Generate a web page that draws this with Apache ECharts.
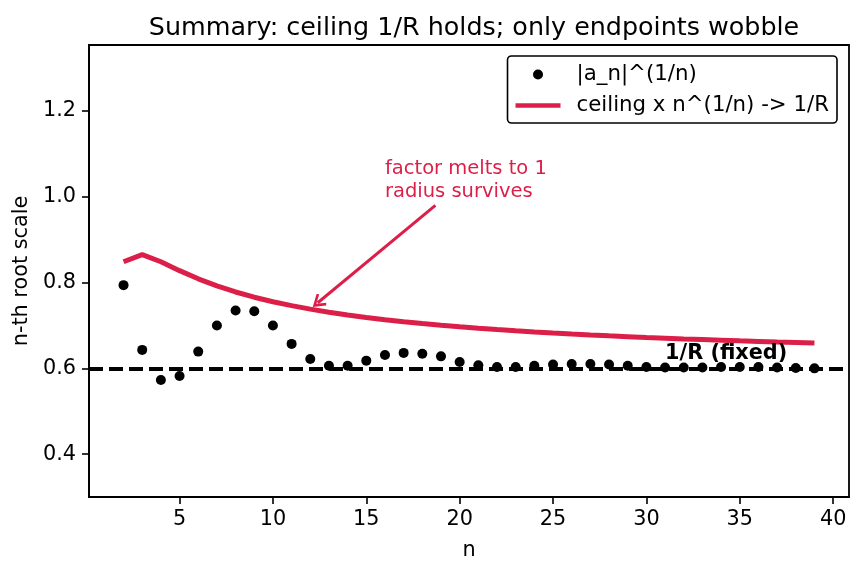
<!DOCTYPE html>
<html>
<head>
<meta charset="utf-8">
<script src="https://cdn.jsdelivr.net/npm/echarts@6/dist/echarts.min.js"></script>
<style>
  html, body { margin: 0; padding: 0; background: #fff; }
  #chart { width: 862px; height: 573px; }
</style>
</head>
<body>
<div id="chart"></div>
<script>
// n-th root summary chart

const nValues = [2, 3, 4, 5, 6, 7, 8, 9, 10, 11, 12, 13, 14, 15, 16, 17, 18, 19, 20,
  21, 22, 23, 24, 25, 26, 27, 28, 29, 30, 31, 32, 33, 34, 35, 36, 37, 38, 39]

const rootValues = [0.794, 0.643, 0.573, 0.582, 0.639, 0.700, 0.735, 0.733, 0.700, 0.657,
  0.622, 0.606, 0.606, 0.618, 0.631, 0.636, 0.634, 0.628, 0.615, 0.607,
  0.603, 0.603, 0.606, 0.609, 0.610, 0.610, 0.609, 0.606, 0.603, 0.602,
  0.602, 0.602, 0.603, 0.603, 0.603, 0.602, 0.601, 0.600]

const ceilingValues = [0.8485, 0.8653, 0.8485, 0.8278, 0.8088, 0.7923, 0.7781, 0.7659, 0.7553, 0.7462,
  0.7381, 0.7309, 0.7245, 0.7187, 0.7135, 0.7088, 0.7045, 0.7006, 0.6970, 0.6936,
  0.6905, 0.6876, 0.6849, 0.6824, 0.6801, 0.6779, 0.6758, 0.6739, 0.6720, 0.6703,
  0.6686, 0.6671, 0.6656, 0.6641, 0.6628, 0.6615, 0.6603, 0.6591]

const xTicks = [5, 10, 15, 20, 25, 30, 35, 40]
const yTicks = [0.4, 0.6, 0.8, 1.0, 1.2]
const radiusLevel = 0.6

const red = '#dc1f48'
const font = 'DejaVu Sans'
const fs = 20.8

const chart = echarts.init(document.getElementById('chart'))

chart.setOption({
  animation: false,
  title: {
    text: 'Summary: ceiling 1/R holds; only endpoints wobble',
    left: 469,
    textAlign: 'center',
    top: 11,
    textStyle: { fontFamily: font, fontSize: 25.4, fontWeight: 'normal', color: '#000' }
  },
  grid: {
    left: 89, right: 13, top: 45, bottom: 76,
    show: true, borderColor: '#000', borderWidth: 1.8, backgroundColor: 'transparent'
  },
  legend: {
    orient: 'vertical',
    right: 25,
    top: 56,
    backgroundColor: '#fff',
    borderColor: '#000',
    borderWidth: 1.6,
    borderRadius: 4,
    padding: [8, 8, 7, 8],
    itemGap: 10,
    itemWidth: 45,
    itemHeight: 10,
    textStyle: { fontFamily: font, fontSize: 21.3, color: '#000', padding: [0, 0, 0, 11] },
    data: [
      { name: '|a_n|^(1/n)', icon: 'circle' },
      { name: 'ceiling x n^(1/n) -> 1/R', icon: 'path://M0,0 L45,0 L45,4.5 L0,4.5 Z' }
    ]
  },
  xAxis: {
    type: 'value',
    min: 0.15,
    max: 40.85,
    name: 'n',
    nameLocation: 'middle',
    nameGap: 43,
    nameTextStyle: { fontFamily: font, fontSize: fs, color: '#000' },
    splitLine: { show: false },
    axisLine: { show: true, onZero: false, lineStyle: { color: '#000', width: 1.8 } },
    axisTick: { show: true, length: 7, lineStyle: { color: '#000', width: 1.6 }, customValues: xTicks },
    axisLabel: { fontFamily: font, fontSize: fs, color: '#000', margin: 12, customValues: xTicks }
  },
  yAxis: {
    type: 'value',
    min: 0.3,
    max: 1.354,
    name: 'n-th root scale',
    nameLocation: 'middle',
    nameGap: 56,
    nameTextStyle: { fontFamily: font, fontSize: fs, color: '#000' },
    splitLine: { show: false },
    axisLine: { show: true, onZero: false, lineStyle: { color: '#000', width: 1.8 } },
    axisTick: { show: true, length: 7, lineStyle: { color: '#000', width: 1.6 }, customValues: yTicks },
    axisLabel: {
      fontFamily: font, fontSize: fs, color: '#000', margin: 13, customValues: yTicks,
      formatter: v => v.toFixed(1)
    }
  },
  series: [
    {
      name: '|a_n|^(1/n)',
      type: 'scatter',
      data: nValues.map((n, i) => [n, rootValues[i]]),
      symbolSize: 10,
      itemStyle: { color: '#000', opacity: 1 },
      z: 2
    },
    {
      name: 'ceiling x n^(1/n) -> 1/R',
      type: 'line',
      data: nValues.map((n, i) => [n, ceilingValues[i]]),
      symbol: 'none',
      lineStyle: { color: red, width: 5 },
      itemStyle: { color: red },
      z: 3,
      markLine: {
        silent: true,
        symbol: ['none', 'path://M5,0 L10,8 L8.7,9.3 L5,3.4 L1.3,9.3 L0,8 Z'],
        symbolSize: [15, 13],
        lineStyle: { color: red, width: 3, type: 'solid' },
        label: { show: false },
        data: [[{ coord: [18.7, 0.98] }, { coord: [12.4, 0.753] }]]
      },
      markPoint: {
        silent: true,
        symbol: 'circle',
        symbolSize: 0,
        data: [
          {
            coord: [16, 0.985],
            label: {
              show: true, formatter: 'factor melts to 1\nradius survives',
              position: 'inside', align: 'left', verticalAlign: 'bottom',
              fontFamily: font, fontSize: 19.5, color: red, lineHeight: 23
            }
          },
          {
            coord: [31, 0.611],
            label: {
              show: true, formatter: '1/R (fixed)',
              position: 'inside', align: 'left', verticalAlign: 'bottom',
              fontFamily: font, fontSize: fs, fontWeight: 'bold', color: '#000'
            }
          }
        ]
      }
    },
    {
      name: 'level',
      type: 'line',
      data: [],
      markLine: {
        silent: true,
        symbol: 'none',
        label: { show: false },
        lineStyle: { color: '#000', width: 3.8, type: [14, 6] },
        data: [{ yAxis: radiusLevel }]
      },
      z: 4
    }
  ]
})
</script>
</body>
</html>
